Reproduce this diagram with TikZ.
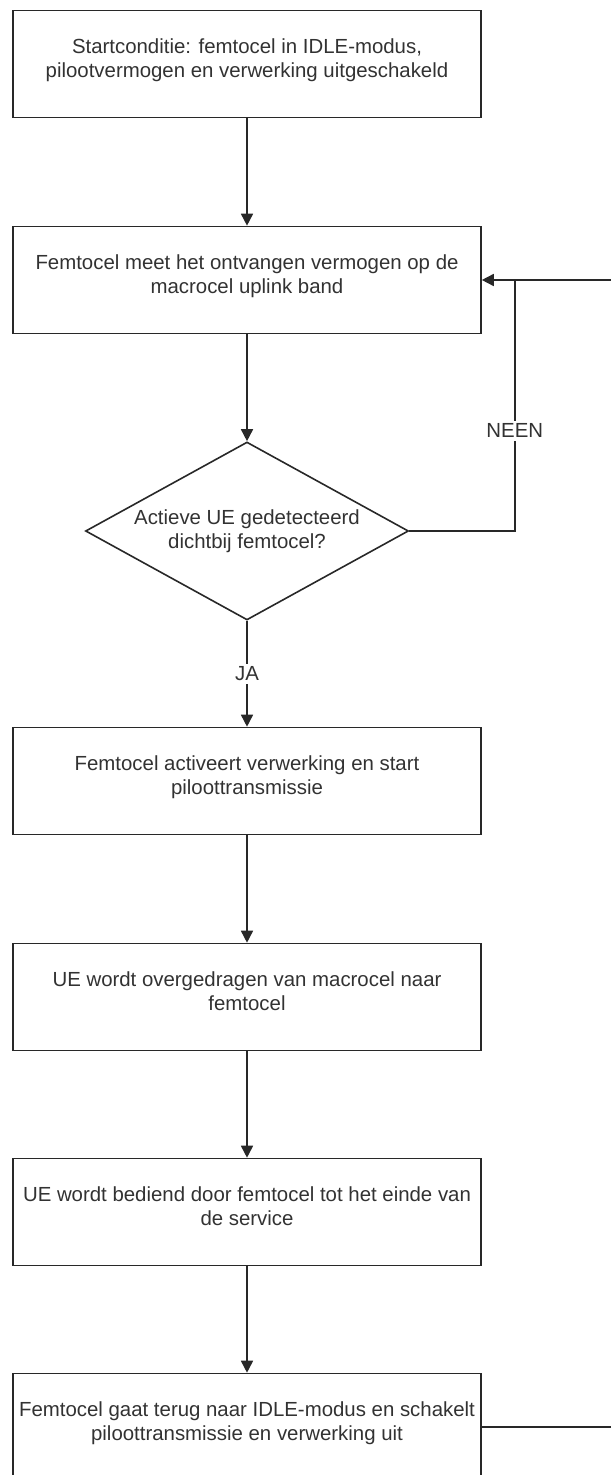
\documentclass[tikz,border=0pt]{standalone}
\usepackage{fontspec}
\setmainfont{Liberation Sans}
\usetikzlibrary{positioning,calc,arrows.meta,shapes.geometric}
\definecolor{flowline}{RGB}{40,40,40}
\definecolor{flowtext}{RGB}{50,50,50}

\begin{document}
\begin{tikzpicture}[x=0.5pt, y=-0.5pt,
  stapbox/.style={draw=flowline, line width=0.8pt, minimum width=234pt, minimum height=53.5pt,
                  inner sep=0pt, align=center, font=\fontsize{10.2}{12}\selectfont, text=flowtext},
  keuze/.style={diamond, draw=flowline, line width=0.8pt, shape aspect=1.81,
                minimum width=161.5pt, minimum height=89pt,
                inner sep=0pt, align=center, font=\fontsize{10.2}{12}\selectfont, text=flowtext},
  pijl/.style={draw=flowline, line width=0.8pt, -{Triangle[length=6pt,width=6pt]}},
  lijn/.style={draw=flowline, line width=0.8pt},
  tak/.style={fill=white, inner sep=1.5pt, font=\fontsize{10.2}{12}\selectfont, text=flowtext}]
  \useasboundingbox (0,0) rectangle (610,1475);

  % stappen
  \node[stapbox] (start) at (247,64)
    {Startconditie: femtocel in IDLE-modus,\\ pilootvermogen en verwerking uitgeschakeld\\[-6pt]};
  \node[stapbox] (meet) at (247,280)
    {Femtocel meet het ontvangen vermogen op de\\ macrocel uplink band\\[-6pt]};
  \node[keuze] (actief) at (247,531)
    {Actieve UE gedetecteerd\\ dichtbij femtocel?};
  \node[stapbox] (activeer) at (247,781)
    {Femtocel activeert verwerking en start\\ piloottransmissie\\[-6pt]};
  \node[stapbox] (overdracht) at (247,997)
    {UE wordt overgedragen van macrocel naar\\ femtocel\\[-6pt]};
  \node[stapbox] (bediend) at (247,1212)
    {UE wordt bediend door femtocel tot het einde van\\ de service\\[-6pt]};
  \node[stapbox] (terug) at (247,1427)
    {Femtocel gaat terug naar IDLE-modus en schakelt\\ piloottransmissie en verwerking uit\\[-6pt]};

  % hulppunten
  \coordinate (neenhoek) at ($(meet.east)+(33,0)$);
  \coordinate (terughoek) at ($(terug.east)+(200,0)$);

  % verbindingen
  \draw[pijl] (start) -- (meet);
  \draw[pijl] (meet) -- (actief);
  \draw[pijl] (actief) -- node[tak, pos=0.5] {JA} (activeer);
  \draw[pijl] (activeer) -- (overdracht);
  \draw[pijl] (overdracht) -- (bediend);
  \draw[pijl] (bediend) -- (terug);
  \draw[lijn] (actief.east) -| node[tak, pos=0.7] {NEEN} (neenhoek);
  \draw[pijl] (terug.east) -- (terughoek) |- (meet.east);
\end{tikzpicture}
\end{document}
